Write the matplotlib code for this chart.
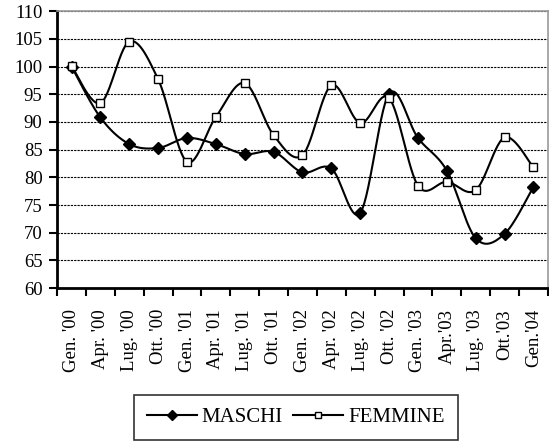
import numpy as np
import matplotlib
matplotlib.use("Agg")
import matplotlib.pyplot as plt
from matplotlib.lines import Line2D

categories = ["Gen. '00", "Apr. '00", "Lug. '00", "Ott. '00",
              "Gen. '01", "Apr. '01", "Lug. '01", "Ott. '01",
              "Gen. '02", "Apr. '02", "Lug. '02", "Ott. '02",
              "Gen. '03", "Apr.'03", "Lug. '03", "Ott.'03", "Gen.'04"]
maschi = [100.0, 90.8, 86.0, 85.3, 87.1, 86.0, 84.2, 84.6, 80.9, 81.6,
          73.6, 95.1, 87.1, 81.2, 69.0, 69.8, 78.3]
femmine = [100.1, 93.4, 104.5, 97.7, 82.8, 90.9, 97.0, 87.6, 84.0, 96.6,
           89.8, 94.3, 78.5, 79.2, 77.7, 87.2, 81.8]
series_names = ["MASCHI", "FEMMINE"]

plt.rcParams['font.family'] = ['Liberation Serif', 'DejaVu Serif']


def smooth(x, y, n=30):
    # Excel-style smoothed line (Catmull-Rom Bezier) through the points
    x = np.asarray(x, float); y = np.asarray(y, float)
    px = np.concatenate([[x[0]], x, [x[-1]]])
    py = np.concatenate([[y[0]], y, [y[-1]]])
    xs, ys = [], []
    t = np.linspace(0, 1, n)
    for i in range(1, len(px) - 2):
        p0 = np.array([px[i - 1], py[i - 1]]); p1 = np.array([px[i], py[i]])
        p2 = np.array([px[i + 1], py[i + 1]]); p3 = np.array([px[i + 2], py[i + 2]])
        c1 = p1 + (p2 - p0) / 6.0
        c2 = p2 - (p3 - p1) / 6.0
        b = ((1 - t) ** 3)[:, None] * p1 + (3 * (1 - t) ** 2 * t)[:, None] * c1 \
            + (3 * (1 - t) * t ** 2)[:, None] * c2 + (t ** 3)[:, None] * p2
        xs.append(b[:, 0]); ys.append(b[:, 1])
    return np.concatenate(xs), np.concatenate(ys)


fig = plt.figure(figsize=(5.49, 4.44), dpi=100)
ax = fig.add_axes([0.104, 0.351, 0.894, 0.624])

x = np.arange(len(categories))
fs = 13.5

styles = [('D', 'black', 6.5), ('s', 'white', 5.5)]
for vals, (mk, mfc, ms) in zip([maschi, femmine], styles):
    sx, sy = smooth(x, vals)
    ax.plot(sx, sy, color='black', lw=1.5, zorder=3)
    ax.plot(x, vals, ls='none', marker=mk, mfc=mfc, mec='black', ms=ms, mew=1.0, zorder=4)

ax.set_xlim(-0.5, len(categories) - 0.5)
ax.set_ylim(60, 110)
ax.set_yticks(np.arange(60, 111, 5))
ax.yaxis.grid(True, color='black', ls=(0, (2, 1)), lw=0.8)
ax.set_axisbelow(True)

ax.set_xticks(np.arange(-0.5, len(categories), 1.0))
ax.set_xticklabels([])
ax.set_xticks(x, minor=True)
ax.set_xticklabels(categories, minor=True, rotation=90, fontsize=fs)
ax.tick_params(axis='x', which='minor', length=0, pad=15)
ax.tick_params(axis='x', which='major', length=6, width=1.5, direction='out')
ax.tick_params(axis='y', length=6, width=1.5, direction='out', labelsize=fs, pad=4.5)

for s in ['left', 'bottom']:
    ax.spines[s].set_linewidth(2.0)
    ax.spines[s].set_color('black')
for s in ['top', 'right']:
    ax.spines[s].set_linewidth(1.2)
    ax.spines[s].set_color('#999999')

handles = [Line2D([], [], color='black', lw=1.5, marker='D', mfc='black', mec='black', ms=5),
           Line2D([], [], color='black', lw=1.5, marker='s', mfc='white', mec='black', ms=5)]
leg = fig.legend(handles, series_names, loc='lower center', bbox_to_anchor=(0.539, 0.0),
                 ncol=2, frameon=True, fancybox=False, edgecolor='black',
                 fontsize=15, handlelength=2.4, columnspacing=0.5, handletextpad=0.25,
                 borderpad=0.6, borderaxespad=0.2)
leg.get_frame().set_linewidth(1.2)

fig.savefig("out.png", dpi=100)
